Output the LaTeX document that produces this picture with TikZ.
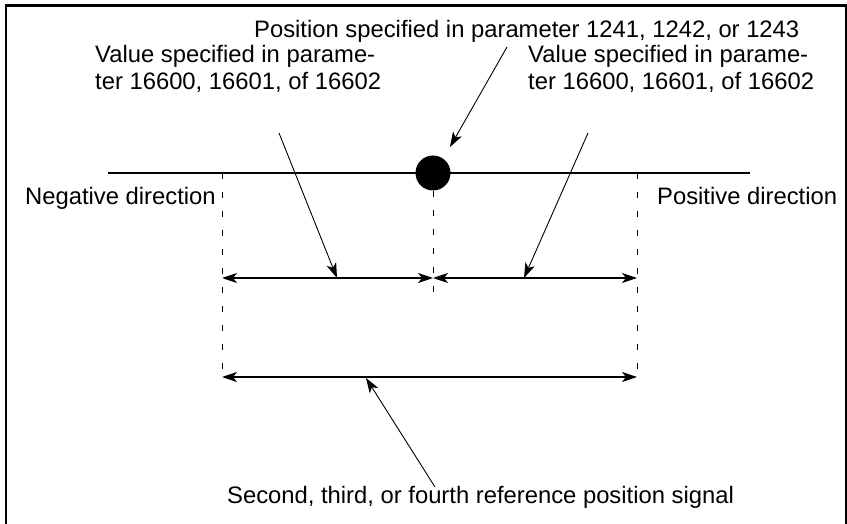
\documentclass[tikz,border=0pt]{standalone}
\usepackage{fontspec}
\setmainfont{Liberation Sans}
\usetikzlibrary{arrows.meta}
\tikzset{
  lbl/.style={inner sep=0pt, font=\fontsize{23.8}{27.5}\selectfont},
  leader/.style={line width=0.9pt, -{Stealth[length=15pt,width=10pt,inset=4pt]}},
  dim/.style={line width=1.2pt, {Stealth[length=15pt,width=10pt,inset=4pt]}-{Stealth[length=15pt,width=10pt,inset=4pt]}},
  ext/.style={line width=1pt, dash pattern=on 6pt off 13pt},
  axis/.style={line width=1.4pt},
  frame/.style={line width=2.4pt}
}
\begin{document}
\begin{tikzpicture}[x=1pt,y=-1pt]
\useasboundingbox (0,0) rectangle (847,524);
\draw[frame] (6,5.5) rectangle (846,530);

% texts
\node[lbl, anchor=base west] (top) at (254,38) {Position specified in parameter 1241, 1242, or 1243};
\node[lbl, anchor=base west, align=left] (lv) at (95,90) {Value specified in parame-\\ter 16600, 16601, of 16602};
\node[lbl, anchor=base west, align=left] (rv) at (528,90) {Value specified in parame-\\ter 16600, 16601, of 16602};
\node[lbl, anchor=base west] (neg) at (25,205) {Negative direction};
\node[lbl, anchor=base west] (pos) at (657,205) {Positive direction};
\node[lbl, anchor=base west] (bot) at (227,503) {Second, third, or fourth reference position signal};

% axis and reference point
\coordinate (axL) at (108,173);
\coordinate (axR) at (750,173);
\draw[axis] (axL) -- (axR);
\node[circle, fill=black, minimum size=35pt, inner sep=0pt] (dot) at (433,173) {};

% extension lines
\coordinate (lt) at (222,173);
\coordinate (lb) at (222,377);
\coordinate (rt) at (637,173);
\coordinate (rb) at (637,377);
\coordinate (cb) at (433,304);
\coordinate (ul) at (222,278);
\coordinate (uc) at (433,278);
\coordinate (ur) at (637,278);
\draw[ext] (lt) -- (lb);
\draw[ext] (rt) -- (rb);
\draw[ext] (dot.south) -- (cb);

% dimension arrows
\draw[dim] (ul) -- (uc);
\draw[dim] (uc) -- (ur);
\draw[dim] (lb) -- (rb);

% leaders
\coordinate (s1) at (507,47);  \coordinate (t1) at (450,147);
\coordinate (s2) at (279,133); \coordinate (t2) at (337,278);
\coordinate (s3) at (588,133); \coordinate (t3) at (524,278);
\coordinate (s4) at (435,487); \coordinate (t4) at (366,378);
\draw[leader] (s1) -- (t1);
\draw[leader] (s2) -- (t2);
\draw[leader] (s3) -- (t3);
\draw[leader] (s4) -- (t4);
\end{tikzpicture}
\end{document}
